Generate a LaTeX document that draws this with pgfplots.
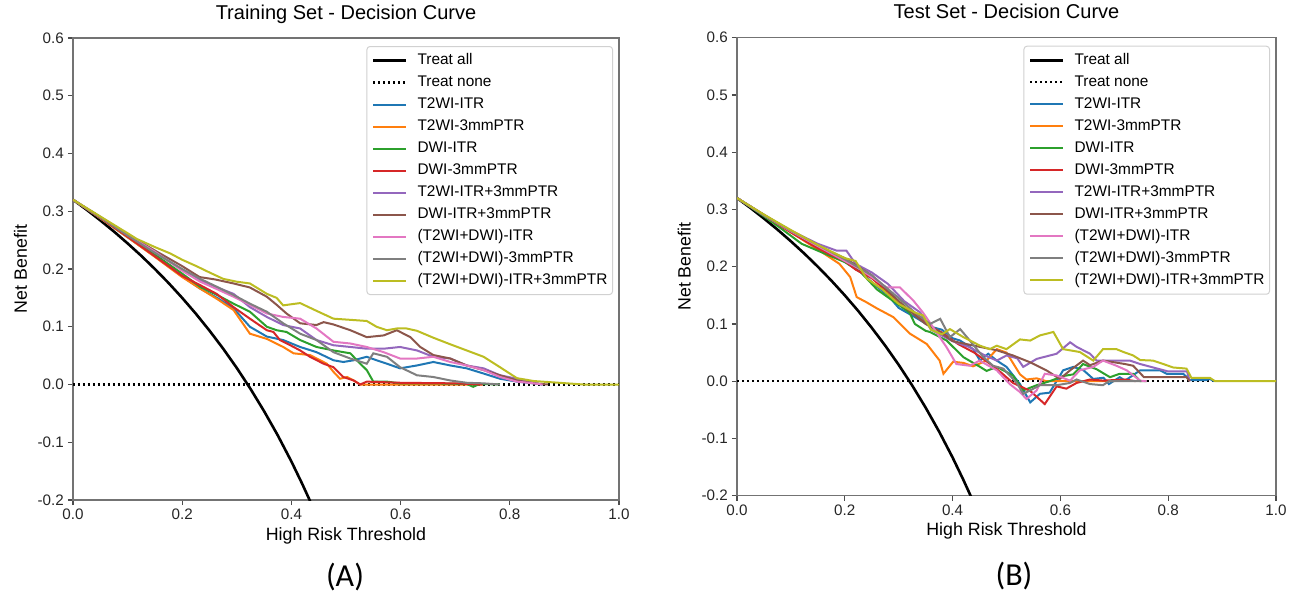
\documentclass[border=0pt]{standalone}
\usepackage{pgfplots}
\pgfplotsset{compat=1.18}
\usepackage{fontspec}
\setmainfont{Liberation Sans}
\newfontfamily\carlito{Carlito}
\definecolor{c0}{HTML}{1F77B4}
\definecolor{c1}{HTML}{FF7F0E}
\definecolor{c2}{HTML}{2CA02C}
\definecolor{c3}{HTML}{D62728}
\definecolor{c4}{HTML}{9467BD}
\definecolor{c5}{HTML}{8C564B}
\definecolor{c6}{HTML}{E377C2}
\definecolor{c7}{HTML}{7F7F7F}
\definecolor{c8}{HTML}{BCBD22}
\pgfplotsset{
 dca/.style={
  scale only axis,
  xmin=0, xmax=1, ymin=-0.2, ymax=0.6,
  xtick={0,0.2,0.4,0.6,0.8,1.0},
  ytick={-0.2,-0.1,0,0.1,0.2,0.3,0.4,0.5,0.6},
  tick pos=left,
  tick align=outside,
  major tick length=2.6pt,
  every tick/.style={black!70, line width=0.6pt},
  axis line style={black!55, line width=0.75pt},
  /pgf/number format/fixed,
  /pgf/number format/fixed zerofill,
  /pgf/number format/precision=1,
  /pgf/number format/assume math mode=true,
  ticklabel style={font=\fontsize{7.6}{9}\selectfont, text=black!85},
  xticklabel style={yshift=1.5pt},
  yticklabel style={xshift=1.5pt},
  title style={font=\fontsize{10}{12}\selectfont, at={(rel axis cs:0.5,1)}, anchor=base, yshift=3.5pt},
  xlabel style={font=\fontsize{8.9}{10}\selectfont, at={(rel axis cs:0.5,0)}, anchor=base, yshift=-20pt},
  ylabel style={font=\fontsize{8.9}{10}\selectfont, anchor=center},
  legend style={at={(rel axis cs:1,1)}, xshift=-3pt, yshift=-4pt, anchor=north east,
    draw=black!18, line width=0.5pt, rounded corners=1.5pt, fill=white,
    font=\fontsize{7.7}{9}\selectfont, inner xsep=2.5pt, inner ysep=1.5pt,
    row sep=0pt, column sep=5pt,
    nodes={inner sep=0pt, text height=7.5pt, text depth=3.5pt}},
  legend cell align=left,
  legend image code/.code={\draw[#1] (0pt,0pt) -- (16.5pt,0pt);},
  every axis plot/.append style={line width=1pt},
 },
 tall/.style={black, line width=1.3pt},
 tnone/.style={black, line width=1.2pt, dash pattern=on 1.1pt off 1.4pt},
}
\begin{document}
\begin{tikzpicture}
\useasboundingbox (0,0) rectangle (645pt,295.5pt);
% ---------------- Training set ----------------
\begin{axis}[dca, at={(36.5pt,45.5pt)}, anchor=south west,
  width=273pt, height=231pt,
  title={Training Set - Decision Curve},
  xlabel={High Risk Threshold}, ylabel={Net Benefit},
  ylabel style={at={(rel axis cs:-0.096,0.5)}}]
\addplot[tall] coordinates {(0,0.32) (0.025,0.3026) (0.05,0.2842) (0.075,0.2649) (0.1,0.2444) (0.125,0.2229) (0.15,0.2000) (0.175,0.1758) (0.2,0.15) (0.225,0.1226) (0.25,0.0933) (0.275,0.0621) (0.3,0.0286) (0.325,-0.0074) (0.35,-0.0462) (0.375,-0.088) (0.4,-0.1333) (0.42,-0.1724) (0.433,-0.1993) (0.44,-0.2143)};
\addlegendentry{Treat all}
\addplot[tnone] coordinates {(0,0) (1,0)};
\addlegendentry{Treat none}
\addplot[c0] coordinates {(0,0.32) (0.05,0.288) (0.1,0.255) (0.15,0.222) (0.2,0.187) (0.233,0.166) (0.264,0.150) (0.294,0.132) (0.324,0.100) (0.355,0.083) (0.385,0.077) (0.416,0.065) (0.446,0.056) (0.477,0.042) (0.495,0.039) (0.514,0.042) (0.538,0.048) (0.556,0.042) (0.575,0.036) (0.599,0.028) (0.630,0.033) (0.660,0.039) (0.691,0.033) (0.721,0.028) (0.752,0.019) (0.782,0.010) (0.813,0.005) (0.844,0.002) (0.86,0)};
\addlegendentry{T2WI-ITR}
\addplot[c1] coordinates {(0,0.32) (0.05,0.288) (0.1,0.255) (0.15,0.221) (0.2,0.186) (0.233,0.166) (0.264,0.148) (0.294,0.129) (0.324,0.088) (0.355,0.079) (0.385,0.065) (0.404,0.054) (0.434,0.051) (0.465,0.036) (0.477,0.022) (0.489,0.010) (0.502,0.013) (0.514,0.007) (0.526,0) (0.75,0)};
\addlegendentry{T2WI-3mmPTR}
\addplot[c2] coordinates {(0,0.32) (0.05,0.289) (0.1,0.257) (0.15,0.225) (0.2,0.192) (0.233,0.169) (0.264,0.155) (0.294,0.140) (0.324,0.126) (0.355,0.100) (0.373,0.094) (0.391,0.091) (0.416,0.077) (0.446,0.065) (0.477,0.059) (0.508,0.054) (0.526,0.036) (0.538,0.025) (0.550,0.005) (0.575,0.005) (0.599,0.002) (0.660,0.002) (0.721,0.001) (0.733,-0.004) (0.745,0.001) (0.782,0)};
\addlegendentry{DWI-ITR}
\addplot[c3] coordinates {(0,0.32) (0.05,0.289) (0.1,0.256) (0.15,0.222) (0.2,0.188) (0.233,0.172) (0.263,0.157) (0.294,0.134) (0.324,0.114) (0.355,0.094) (0.367,0.091) (0.379,0.077) (0.398,0.068) (0.416,0.059) (0.434,0.048) (0.459,0.036) (0.477,0.030) (0.495,0.013) (0.514,0.007) (0.526,0) (0.538,0.005) (0.6,0.003) (0.7,0.002) (0.75,0)};
\addlegendentry{DWI-3mmPTR}
\addplot[c4] coordinates {(0,0.32) (0.05,0.29) (0.1,0.259) (0.15,0.229) (0.2,0.199) (0.233,0.180) (0.264,0.168) (0.294,0.157) (0.324,0.134) (0.355,0.117) (0.385,0.103) (0.416,0.097) (0.446,0.077) (0.477,0.068) (0.508,0.065) (0.538,0.062) (0.569,0.062) (0.599,0.065) (0.630,0.059) (0.660,0.048) (0.691,0.045) (0.721,0.033) (0.752,0.028) (0.782,0.016) (0.813,0.010) (0.844,0.003) (0.86,0)};
\addlegendentry{T2WI-ITR+3mmPTR}
\addplot[c5] coordinates {(0,0.32) (0.05,0.290) (0.1,0.260) (0.15,0.232) (0.2,0.205) (0.232,0.186) (0.26,0.182) (0.294,0.175) (0.324,0.168) (0.355,0.152) (0.373,0.138) (0.391,0.123) (0.416,0.106) (0.446,0.103) (0.459,0.108) (0.477,0.104) (0.508,0.094) (0.538,0.082) (0.569,0.085) (0.593,0.094) (0.618,0.082) (0.636,0.065) (0.660,0.051) (0.691,0.045) (0.721,0.033) (0.752,0.025) (0.782,0.016) (0.813,0.007) (0.844,0.002) (0.87,0)};
\addlegendentry{DWI-ITR+3mmPTR}
\addplot[c6] coordinates {(0,0.32) (0.05,0.29) (0.1,0.259) (0.15,0.23) (0.2,0.197) (0.233,0.178) (0.264,0.165) (0.294,0.152) (0.324,0.138) (0.355,0.123) (0.385,0.117) (0.416,0.114) (0.446,0.097) (0.477,0.074) (0.508,0.071) (0.538,0.065) (0.569,0.056) (0.599,0.045) (0.630,0.045) (0.660,0.048) (0.691,0.039) (0.721,0.033) (0.752,0.025) (0.782,0.013) (0.813,0.005) (0.844,0.002) (0.86,0)};
\addlegendentry{(T2WI+DWI)-ITR}
\addplot[c7] coordinates {(0,0.32) (0.05,0.29) (0.1,0.258) (0.15,0.228) (0.2,0.2) (0.233,0.183) (0.264,0.169) (0.294,0.155) (0.324,0.140) (0.355,0.126) (0.385,0.106) (0.416,0.088) (0.446,0.077) (0.477,0.056) (0.508,0.045) (0.538,0.036) (0.550,0.054) (0.575,0.048) (0.599,0.030) (0.630,0.016) (0.660,0.013) (0.691,0.007) (0.721,0.003) (0.752,0.002) (0.782,0)};
\addlegendentry{(T2WI+DWI)-3mmPTR}
\addplot[c8] coordinates {(0,0.32) (0.05,0.291) (0.1,0.262) (0.117,0.252) (0.15,0.238) (0.178,0.227) (0.2,0.216) (0.226,0.205) (0.25,0.194) (0.275,0.183) (0.3,0.178) (0.324,0.175) (0.355,0.157) (0.373,0.150) (0.385,0.137) (0.40,0.139) (0.416,0.141) (0.445,0.128) (0.477,0.114) (0.508,0.112) (0.538,0.110) (0.556,0.100) (0.575,0.094) (0.593,0.097) (0.611,0.097) (0.630,0.093) (0.660,0.081) (0.690,0.070) (0.721,0.059) (0.752,0.048) (0.782,0.030) (0.813,0.011) (0.844,0.006) (0.875,0.004) (0.905,0.002) (0.935,0) (1.0,0)};
\addlegendentry{(T2WI+DWI)-ITR+3mmPTR}
\end{axis}
% ---------------- Test set ----------------
\begin{axis}[dca, at={(368.5pt,47.65pt)}, anchor=south west,
  width=269.5pt, height=229pt,
  title={Test Set - Decision Curve},
  xlabel={High Risk Threshold}, ylabel={Net Benefit},
  ylabel style={at={(rel axis cs:-0.098,0.5)}}]
\addplot[tall] coordinates {(0,0.32) (0.025,0.3026) (0.05,0.2842) (0.075,0.2649) (0.1,0.2444) (0.125,0.2229) (0.15,0.2000) (0.175,0.1758) (0.2,0.15) (0.225,0.1226) (0.25,0.0933) (0.275,0.0621) (0.3,0.0286) (0.325,-0.0074) (0.35,-0.0462) (0.375,-0.088) (0.4,-0.1333) (0.42,-0.1724) (0.433,-0.1993) (0.44,-0.2143)};
\addlegendentry{Treat all}
\addplot[tnone] coordinates {(0,0) (1,0)};
\addlegendentry{Treat none}
\addplot[c0] coordinates {(0,0.32) (0.05,0.29) (0.1,0.262) (0.15,0.235) (0.2,0.21) (0.23,0.19) (0.26,0.165) (0.28,0.15) (0.30,0.128) (0.33,0.112) (0.36,0.095) (0.38,0.09) (0.40,0.075) (0.414,0.071) (0.438,0.056) (0.451,0.036) (0.466,0.048) (0.482,0.036) (0.50,0.025) (0.525,-0.005) (0.544,-0.037) (0.562,-0.022) (0.58,-0.02) (0.605,0.019) (0.624,0.025) (0.643,0.019) (0.661,0.004) (0.68,0.006) (0.69,-0.005) (0.71,0.007) (0.72,0.001) (0.748,0.019) (0.785,0.019) (0.797,0.013) (0.828,0.013) (0.84,0.002) (0.87,0.002) (0.877,0.004) (0.885,0)};
\addlegendentry{T2WI-ITR}
\addplot[c1] coordinates {(0,0.32) (0.05,0.29) (0.1,0.26) (0.15,0.23) (0.19,0.205) (0.21,0.182) (0.222,0.147) (0.24,0.138) (0.26,0.127) (0.29,0.112) (0.321,0.083) (0.352,0.065) (0.376,0.036) (0.383,0.013) (0.401,0.034) (0.42,0.032) (0.438,0.026) (0.463,0.036) (0.482,0.056) (0.5,0.05) (0.525,0.012) (0.537,0.003) (0.556,0.005) (0.574,0) (0.7,0)};
\addlegendentry{T2WI-3mmPTR}
\addplot[c2] coordinates {(0,0.32) (0.05,0.288) (0.08,0.268) (0.12,0.24) (0.15,0.228) (0.2,0.208) (0.23,0.19) (0.26,0.16) (0.29,0.14) (0.32,0.12) (0.33,0.10) (0.35,0.088) (0.358,0.086) (0.389,0.071) (0.420,0.042) (0.451,0.025) (0.463,0.018) (0.482,0.025) (0.512,0.010) (0.531,-0.016) (0.556,-0.007) (0.580,0) (0.605,0.009) (0.624,0.012) (0.642,0.030) (0.667,0.021) (0.692,0.007) (0.71,0.013) (0.735,0.013) (0.748,0) (0.76,0)};
\addlegendentry{DWI-ITR}
\addplot[c3] coordinates {(0,0.32) (0.05,0.29) (0.1,0.26) (0.15,0.232) (0.172,0.222) (0.2,0.21) (0.22,0.195) (0.25,0.18) (0.28,0.155) (0.31,0.13) (0.34,0.11) (0.36,0.095) (0.38,0.085) (0.41,0.065) (0.44,0.05) (0.47,0.03) (0.49,0.015) (0.512,-0.003) (0.544,-0.017) (0.571,-0.04) (0.593,-0.009) (0.611,-0.013) (0.630,-0.003) (0.655,0.003) (0.68,0.001) (0.72,0.003) (0.74,0)};
\addlegendentry{DWI-3mmPTR}
\addplot[c4] coordinates {(0,0.32) (0.05,0.29) (0.1,0.263) (0.15,0.24) (0.185,0.228) (0.203,0.228) (0.22,0.205) (0.25,0.19) (0.28,0.17) (0.31,0.14) (0.34,0.12) (0.36,0.09) (0.38,0.08) (0.40,0.07) (0.43,0.06) (0.46,0.045) (0.482,0.036) (0.50,0.045) (0.52,0.04) (0.531,0.025) (0.556,0.039) (0.593,0.048) (0.618,0.068) (0.630,0.060) (0.655,0.048) (0.667,0.036) (0.729,0.036) (0.748,0.030) (0.8,0.017) (0.835,0.017) (0.84,0)};
\addlegendentry{T2WI-ITR+3mmPTR}
\addplot[c5] coordinates {(0,0.32) (0.05,0.291) (0.1,0.262) (0.15,0.236) (0.2,0.215) (0.25,0.185) (0.3,0.14) (0.33,0.115) (0.35,0.1) (0.37,0.09) (0.40,0.07) (0.44,0.062) (0.482,0.054) (0.512,0.045) (0.544,0.033) (0.574,0.019) (0.599,0.004) (0.618,0.019) (0.642,0.036) (0.655,0.028) (0.679,0.036) (0.70,0.033) (0.72,0.030) (0.735,0.027) (0.755,0.007) (0.834,0.007) (0.84,0)};
\addlegendentry{DWI-ITR+3mmPTR}
\addplot[c6] coordinates {(0,0.32) (0.05,0.29) (0.1,0.262) (0.15,0.236) (0.2,0.21) (0.23,0.195) (0.26,0.175) (0.277,0.164) (0.302,0.164) (0.327,0.141) (0.345,0.12) (0.364,0.094) (0.389,0.059) (0.407,0.030) (0.432,0.027) (0.45,0.036) (0.482,0.019) (0.506,-0.005) (0.525,-0.019) (0.537,-0.031) (0.556,-0.016) (0.571,0.013) (0.593,0.01) (0.618,0.001) (0.636,0.019) (0.661,0.025) (0.679,0.036) (0.704,0.027) (0.723,0.019) (0.748,0.001) (0.76,0)};
\addlegendentry{(T2WI+DWI)-ITR}
\addplot[c7] coordinates {(0,0.32) (0.05,0.29) (0.1,0.263) (0.15,0.238) (0.2,0.213) (0.25,0.185) (0.3,0.145) (0.33,0.12) (0.358,0.10) (0.377,0.109) (0.395,0.077) (0.414,0.091) (0.432,0.071) (0.457,0.042) (0.475,0.027) (0.494,0.022) (0.519,-0.003) (0.531,-0.022) (0.544,-0.016) (0.562,-0.007) (0.593,-0.007) (0.618,-0.003) (0.630,0.003) (0.655,-0.005) (0.679,-0.007) (0.69,0) (0.75,0)};
\addlegendentry{(T2WI+DWI)-3mmPTR}
\addplot[c8] coordinates {(0,0.32) (0.05,0.291) (0.1,0.264) (0.15,0.238) (0.2,0.215) (0.22,0.21) (0.24,0.18) (0.27,0.16) (0.3,0.135) (0.33,0.12) (0.345,0.115) (0.36,0.09) (0.38,0.082) (0.395,0.091) (0.420,0.077) (0.451,0.062) (0.469,0.056) (0.482,0.062) (0.500,0.056) (0.525,0.073) (0.544,0.071) (0.562,0.080) (0.587,0.086) (0.605,0.056) (0.636,0.051) (0.661,0.036) (0.679,0.056) (0.704,0.056) (0.717,0.051) (0.735,0.045) (0.748,0.037) (0.772,0.036) (0.791,0.030) (0.809,0.024) (0.834,0.022) (0.843,0.006) (0.877,0.006) (0.887,0) (1.0,0)};
\addlegendentry{(T2WI+DWI)-ITR+3mmPTR}
\end{axis}
\node[anchor=base, font=\carlito\fontsize{16}{18}\selectfont] at (172.5pt,2.5pt) {(A)};
\node[anchor=base, font=\carlito\fontsize{16}{18}\selectfont] at (507pt,3pt) {(B)};
\end{tikzpicture}
\end{document}
